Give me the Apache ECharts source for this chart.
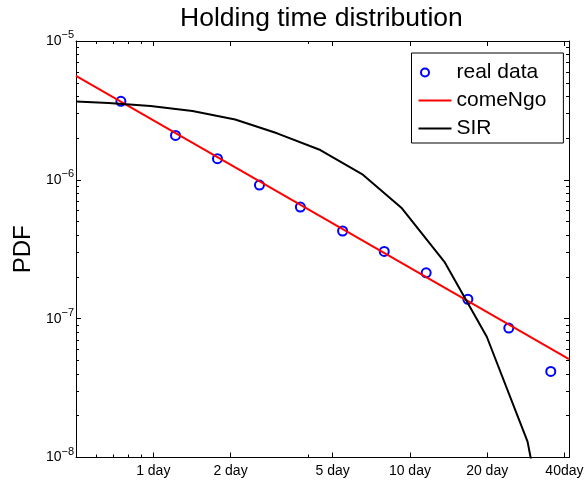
<!DOCTYPE html>
<html><head><meta charset="utf-8">
<script src="https://cdn.jsdelivr.net/npm/echarts@6/dist/echarts.min.js"></script>
<style>html,body{margin:0;padding:0;background:#fff}#c{width:585px;height:487px}</style>
</head><body><div id="c"></div>
<script>
// ---- data ----
const realDays = [0.748, 1.221, 1.779, 2.593, 3.743, 5.467, 7.943, 11.57, 16.82, 24.28, 35.38];
const realPdf  = [3.68e-6, 2.09e-6, 1.42e-6, 9.17e-7, 6.37e-7, 4.28e-7, 3.05e-7, 2.14e-7, 1.38e-7, 8.56e-8, 4.17e-8];
const comeNgoDays = [0.5, 41.67];
const comeNgoPdf  = [5.6e-6, 5.11e-8];
const sirDays = [0.5, 0.670, 0.976, 1.422, 2.085, 3.038, 4.477, 6.506, 9.308, 13.63, 19.93, 28.73, 41.67];
const sirPdf  = [3.665e-6, 3.575e-6, 3.40e-6, 3.13e-6, 2.72e-6, 2.163e-6, 1.639e-6, 1.101e-6, 6.23e-7, 2.57e-7, 7.41e-8, 1.302e-8, 3.77e-10];
const dayTicks = [1, 2, 5, 10, 20, 40];
const dayTickLabels = ['1 day', '2 day', '5 day', '10 day', '20 day', '40day'];
const dayMinorTicks = [0.6, 0.7, 0.8, 0.9, 4];
const pdfTicks = [1e-8, 1e-7, 1e-6, 1e-5];
const pdfTickExponents = ['\u22128', '\u22127', '\u22126', '\u22125'];
const pdfMinorTicks = [2e-8,3e-8,4e-8,5e-8,6e-8,7e-8,8e-8,9e-8,
                       2e-7,3e-7,4e-7,5e-7,6e-7,7e-7,8e-7,9e-7,
                       2e-6,3e-6,4e-6,5e-6,6e-6,7e-6,8e-6,9e-6];
const xRange = [0.5, 41.67];
const yRange = [1e-8, 1e-5];
const titleText = 'Holding time distribution';
const yName = 'PDF';
const seriesNames = ['real data', 'comeNgo', 'SIR'];

// ---- chart ----
const FONT = '"Liberation Sans", Arial, Helvetica, sans-serif';
const chart = echarts.init(document.getElementById('c'), null, {renderer: 'canvas'});

function labelFor(ticks, labels, v) {
  let best = 0, bd = Infinity;
  ticks.forEach((t, k) => {
    const d = Math.abs(Math.log10(t) - Math.log10(v));
    if (d < bd) { bd = d; best = k; }
  });
  return labels[best];
}

function xAx(pos, ticks, len, showLine, labels) {
  return {
    type: 'log', logBase: 10, position: pos, min: xRange[0], max: xRange[1], gridIndex: 0,
    axisLine: {show: showLine, onZero: false, lineStyle: {color: '#000', width: 1}},
    axisTick: {show: true, inside: true, length: len, customValues: ticks, lineStyle: {color: '#000', width: 1}},
    axisLabel: labels ? {
      show: true, customValues: ticks, margin: 7, fontSize: 14, fontFamily: FONT, color: '#000',
      hideOverlap: false,
      formatter: (v) => labelFor(ticks, labels, v)
    } : {show: false},
    splitLine: {show: false}, minorTick: {show: false}, minorSplitLine: {show: false}
  };
}
function yAx(pos, ticks, len, showLine, labels, name) {
  const o = {
    type: 'log', logBase: 10, position: pos, min: yRange[0], max: yRange[1], gridIndex: 0,
    axisLine: {show: showLine, onZero: false, lineStyle: {color: '#000', width: 1}},
    axisTick: {show: true, inside: true, length: len, customValues: ticks, lineStyle: {color: '#000', width: 1}},
    axisLabel: labels ? {
      show: true, customValues: ticks, margin: 2, color: '#000', fontFamily: FONT,
      formatter: (v) => '{b|10}{s|' + labelFor(ticks, labels, v) + '}',
      rich: {
        b: {fontSize: 14, fontFamily: FONT, color: '#000'},
        s: {fontSize: 11, fontFamily: FONT, color: '#000', padding: [0, 0, 12, 0]}
      }
    } : {show: false},
    splitLine: {show: false}, minorTick: {show: false}, minorSplitLine: {show: false}
  };
  if (name) {
    o.name = name; o.nameLocation = 'middle'; o.nameGap = 41; o.nameMoveOverlap = false;
    o.nameTextStyle = {fontSize: 24, fontFamily: FONT, color: '#000'};
  }
  return o;
}

const option = {
  animation: false,
  backgroundColor: '#fff',
  title: {
    text: titleText, left: 180, top: 0, padding: [5, 0, 0, 0],
    textStyle: {fontSize: 26.5, fontWeight: 'normal', fontFamily: FONT, color: '#000'}
  },
  grid: {left: 76, top: 41, width: 493, height: 416.5, containLabel: false, outerBoundsMode: 'none'},
  legend: {
    orient: 'vertical', left: 411.5, top: 53,
    itemWidth: 33, itemHeight: 10, itemGap: 7, padding: [9, 17, 4, 6],
    borderColor: '#000', borderWidth: 1, borderRadius: 0, backgroundColor: '#fff',
    selectedMode: false,
    textStyle: {fontSize: 21, lineHeight: 21, fontFamily: FONT, color: '#000'},
    data: [
      {name: seriesNames[0], icon: 'path://M2.5,5a4,4 0 1,0 8,0a4,4 0 1,0 -8,0M0,0M33,10',
       itemStyle: {color: 'rgba(0,0,0,0)', borderColor: '#0000ff', borderWidth: 2}},
      {name: seriesNames[1], itemStyle: {opacity: 0}},
      {name: seriesNames[2], itemStyle: {opacity: 0}}
    ]
  },
  xAxis: [
    xAx('bottom', dayTicks, 5, true, dayTickLabels),
    xAx('bottom', dayMinorTicks, 3, false, null),
    xAx('top', dayTicks, 5, true, null),
    xAx('top', dayMinorTicks, 3, false, null)
  ],
  yAxis: [
    yAx('left', pdfTicks, 5, true, pdfTickExponents, yName),
    yAx('left', pdfMinorTicks, 3, false, null),
    yAx('right', pdfTicks, 5, true, null),
    yAx('right', pdfMinorTicks, 3, false, null)
  ],
  series: [
    {
      type: 'scatter', name: seriesNames[0], xAxisIndex: 0, yAxisIndex: 0,
      data: realDays.map((d, i) => [d, realPdf[i]]),
      symbol: 'emptyCircle', symbolSize: 9,
      itemStyle: {color: '#0000ff', borderColor: '#0000ff', borderWidth: 2, opacity: 1}
    },
    {
      type: 'line', name: seriesNames[1], xAxisIndex: 0, yAxisIndex: 0,
      data: comeNgoDays.map((d, i) => [d, comeNgoPdf[i]]),
      symbol: 'none', clip: true,
      lineStyle: {color: '#ff0000', width: 2}, itemStyle: {color: '#ff0000'}
    },
    {
      type: 'line', name: seriesNames[2], xAxisIndex: 0, yAxisIndex: 0,
      data: sirDays.map((d, i) => [d, sirPdf[i]]),
      symbol: 'none', clip: true,
      lineStyle: {color: '#000', width: 2}, itemStyle: {color: '#000'}
    }
  ]
};
chart.setOption(option);
</script>
</body></html>
